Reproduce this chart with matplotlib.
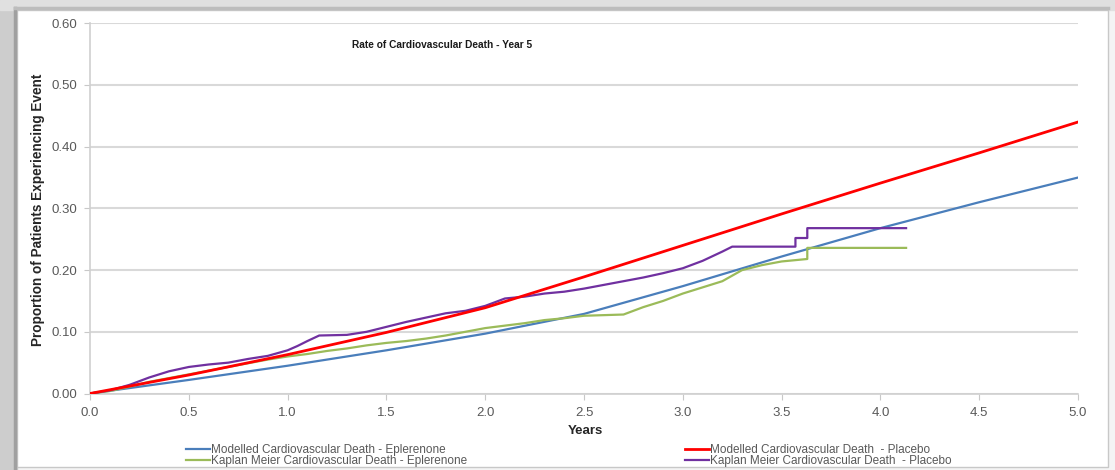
import matplotlib
matplotlib.use("Agg")
import matplotlib.pyplot as plt
from matplotlib.patches import Rectangle
from matplotlib.lines import Line2D
import matplotlib.ticker as mticker

plt.rcParams["font.family"] = ["Liberation Sans", "DejaVu Sans"]

# 模型曲线（每 0.5 年一个点）
model_years = [0.0, 0.5, 1.0, 1.5, 2.0, 2.5, 3.0, 3.5, 4.0, 4.5, 5.0]
model_eplerenone = [0.0, 0.022, 0.045, 0.070, 0.097, 0.129, 0.174, 0.222, 0.268, 0.310, 0.350]
model_placebo = [0.0, 0.030, 0.063, 0.099, 0.139, 0.189, 0.240, 0.291, 0.341, 0.390, 0.440]

# Kaplan-Meier 曲线
km_epl_years = [0.0, 0.1, 0.2, 0.3, 0.4, 0.5, 0.6, 0.7, 0.8, 0.9, 1.0, 1.1, 1.2, 1.3,
                1.4, 1.5, 1.6, 1.7, 1.8, 1.9, 2.0, 2.1, 2.2, 2.3, 2.4, 2.5, 2.6, 2.7,
                2.8, 2.9, 3.0, 3.1, 3.2, 3.3, 3.4, 3.5, 3.63, 3.63, 4.13]
km_epl = [0.0, 0.004, 0.011, 0.019, 0.025, 0.031, 0.037, 0.043, 0.049, 0.055, 0.060,
          0.064, 0.069, 0.073, 0.078, 0.082, 0.085, 0.089, 0.094, 0.100, 0.106, 0.110,
          0.114, 0.119, 0.122, 0.126, 0.127, 0.128, 0.140, 0.150, 0.162, 0.172, 0.182,
          0.200, 0.208, 0.214, 0.218, 0.236, 0.236]

km_pla_years = [0.0, 0.1, 0.2, 0.3, 0.4, 0.5, 0.6, 0.7, 0.8, 0.9, 1.0, 1.05, 1.1, 1.16,
                1.3, 1.4, 1.5, 1.6, 1.7, 1.8, 1.9, 2.0, 2.1, 2.2, 2.3, 2.4, 2.5, 2.6,
                2.7, 2.8, 2.9, 3.0, 3.1, 3.2, 3.25, 3.57, 3.57, 3.63, 3.63, 4.13]
km_placebo = [0.0, 0.005, 0.014, 0.026, 0.036, 0.043, 0.047, 0.050, 0.056, 0.061, 0.070,
              0.077, 0.085, 0.094, 0.095, 0.100, 0.108, 0.116, 0.123, 0.130, 0.134, 0.142,
              0.154, 0.157, 0.162, 0.165, 0.170, 0.176, 0.182, 0.188, 0.195, 0.203, 0.215,
              0.230, 0.238, 0.238, 0.252, 0.252, 0.268, 0.268]

labels = [
    "Modelled Cardiovascular Death - Eplerenone",
    "Kaplan Meier Cardiovascular Death - Eplerenone",
    "Modelled Cardiovascular Death  - Placebo",
    "Kaplan Meier Cardiovascular Death  - Placebo",
]
colors = ["#4a7ebb", "#9bbb59", "#ff0000", "#7030a0"]

W, H = 1115, 470


def px(x, y):
    return x / W, (H - y) / H


fig = plt.figure(figsize=(W / 100, H / 100), dpi=100, facecolor="#f4f4f4")

# 外框阴影
fig.add_artist(Rectangle(px(0, H), 17 / W, 1, transform=fig.transFigure,
                         color="#cdcdcd", zorder=0))
fig.add_artist(Rectangle(px(0, 10), 1, 10 / H, transform=fig.transFigure,
                         color="#e0e0e0", zorder=0))
fig.add_artist(Rectangle(px(17, 467), (1108 - 17) / W, (467 - 10) / H,
                         transform=fig.transFigure, facecolor="white",
                         edgecolor="#c8c8c8", linewidth=1, zorder=0))
fig.add_artist(Line2D([15 / W, 15 / W], [0, (H - 8) / H], transform=fig.transFigure,
                      color="#a0a0a0", linewidth=2.5, zorder=1))
fig.add_artist(Line2D([15 / W, 1108 / W], [(H - 7.5) / H, (H - 7.5) / H],
                      transform=fig.transFigure, color="#bdbdbd", linewidth=2.5, zorder=1))

x0, y0 = px(90, 393.5)
ax = fig.add_axes([x0, y0, (1078 - 90) / W, (393.5 - 23.3) / H])
ax.set_facecolor("none")

ax.plot(model_years, model_eplerenone, color=colors[0], lw=1.6, label=labels[0], zorder=3)
ax.plot(km_epl_years, km_epl, color=colors[1], lw=1.6, label=labels[1], zorder=3)
ax.plot(model_years, model_placebo, color=colors[2], lw=2.0, label=labels[2], zorder=5)
ax.plot(km_pla_years, km_placebo, color=colors[3], lw=1.6, label=labels[3], zorder=4)

ax.set_xlim(0, 5)
ax.set_ylim(0, 0.6)
ax.xaxis.set_major_locator(mticker.MultipleLocator(0.5))
ax.yaxis.set_major_locator(mticker.MultipleLocator(0.1))
ax.xaxis.set_major_formatter(mticker.FormatStrFormatter("%.1f"))
ax.yaxis.set_major_formatter(mticker.FormatStrFormatter("%.2f"))
ax.grid(axis="y", color="#d9d9d9", linewidth=1.5)
ax.set_axisbelow(True)

for side in ["top", "right"]:
    ax.spines[side].set_visible(False)
for side in ["left", "bottom"]:
    ax.spines[side].set_color("#d0d0d0")
    ax.spines[side].set_linewidth(1.2)
ax.tick_params(axis="both", color="#c8c8c8", length=4, labelcolor="#595959",
               labelsize=9.5)
ax.tick_params(axis="x", pad=6)
ax.tick_params(axis="y", pad=5)

fig.text(*px(352, 45), "Rate of Cardiovascular Death - Year 5", fontsize=7.3,
         fontweight="bold", color="#1a1a1a", ha="left", va="center")
fig.text(*px(38, 210), "Proportion of Patients Experiencing Event", fontsize=9.8,
         fontweight="bold", color="#262626", rotation=90, ha="center", va="center")
fig.text(*px(585, 431), "Years", fontsize=9.5, fontweight="bold", color="#262626",
         ha="center", va="center")

leg = ax.legend(loc="upper left", bbox_to_anchor=px(186, 444), bbox_transform=fig.transFigure,
                ncol=2, frameon=False, fontsize=8.5, handlelength=2.0, handletextpad=0.1,
                columnspacing=18.5, labelspacing=-0.1, borderpad=0, borderaxespad=0)
for t in leg.get_texts():
    t.set_color("#595959")

fig.savefig("out.png", dpi=100, facecolor=fig.get_facecolor())
